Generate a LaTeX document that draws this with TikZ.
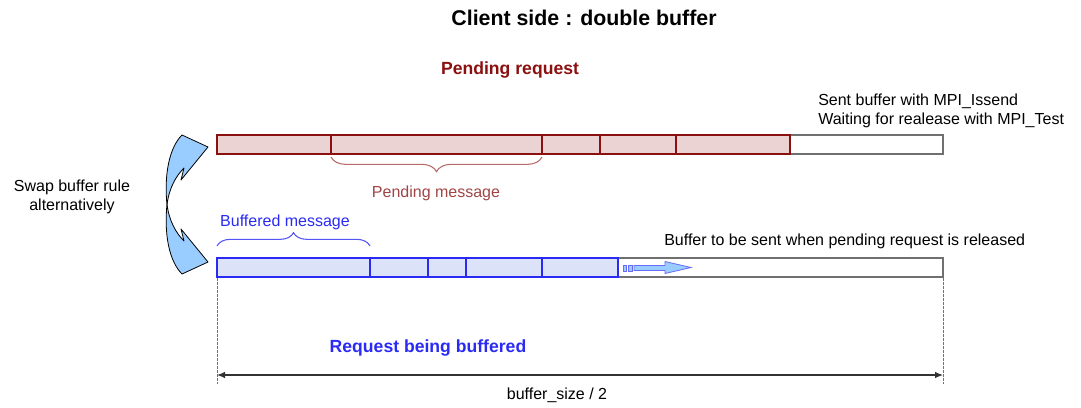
\documentclass[tikz,border=0pt]{standalone}
\usepackage{fontspec}
\setmainfont{Liberation Sans}
\usetikzlibrary{decorations.pathreplacing,arrows.meta}
\definecolor{dred}{HTML}{8B1010}
\definecolor{mred}{HTML}{A04545}
\definecolor{bred}{HTML}{B86A6A}
\definecolor{redfill}{HTML}{EBD3D3}
\definecolor{bblue}{HTML}{2A2AF5}
\definecolor{bluefill}{HTML}{DCE2F8}
\definecolor{arrowfill}{HTML}{99CCFF}
\definecolor{gline}{HTML}{707070}
\tikzset{
  redcell/.style={draw=dred, fill=redfill, line width=0.8pt},
  bluecell/.style={draw=bblue, fill=bluefill, line width=0.8pt},
  emptycell/.style={draw=gline, fill=white, line width=0.9pt},
  lbl/.style={inner sep=0pt, font=\fontsize{12pt}{14pt}\selectfont},
  boldlbl/.style={inner sep=0pt, font=\fontsize{13.2pt}{15pt}\selectfont\bfseries},
  swaparrow/.style={draw=black, fill=arrowfill, line width=0.6pt, line join=round},
  bracestyle/.style={decorate, line width=0.8pt},
  guide/.style={draw=gline, dashed, dash pattern=on 2pt off 1pt, line width=0.5pt},
  dimline/.style={draw=black!80, line width=0.9pt, {Latex[length=6pt,width=5pt]}-{Latex[length=6pt,width=5pt]}}
}
\begin{document}
\begin{tikzpicture}[x=0.75pt,y=-0.75pt]
\useasboundingbox (0,0) rectangle (1081,407);

% title texts
\node[inner sep=0pt, font=\fontsize{16pt}{18pt}\selectfont\bfseries] (title) at (584,18) {Client side : double buffer};
\node[boldlbl, text=dred] (pendreq) at (510,70) {Pending request};
\node[lbl, anchor=west] (sent) at (818,101) {Sent buffer with MPI\_Issend};
\node[lbl, anchor=west] (wait) at (818,120) {Waiting for realease with MPI\_Test};

% top buffer (pending request)
\draw[emptycell] (790,135) rectangle (943,154);
\draw[redcell] (217,135) rectangle (331,154);
\draw[redcell] (331,135) rectangle (542,154);
\draw[redcell] (542,135) rectangle (600,154);
\draw[redcell] (600,135) rectangle (676,154);
\draw[redcell] (676,135) rectangle (790,154);
\coordinate (pmL) at (331,157);
\coordinate (pmR) at (542,157);
\draw[bracestyle, draw=bred, decoration={brace, mirror, amplitude=11pt}] (pmL) -- (pmR);
\node[lbl, text=mred] (pendmsg) at (436,193) {Pending message};

% bottom buffer (request being buffered)
\coordinate (bmL) at (217,246);
\coordinate (bmR) at (370,246);
\draw[bracestyle, draw=bblue!80, decoration={brace, amplitude=10pt}] (bmL) -- (bmR);
\node[lbl, text=bblue] (bufmsg) at (285,222) {Buffered message};
\node[lbl, anchor=west] (tobesent) at (664,241) {Buffer to be sent when pending request is released};

\draw[emptycell] (618,258) rectangle (943,277);
\draw[bluecell] (217,258) rectangle (370,277);
\draw[bluecell] (370,258) rectangle (428,277);
\draw[bluecell] (428,258) rectangle (466,277);
\draw[bluecell] (466,258) rectangle (542,277);
\draw[bluecell] (542,258) rectangle (618,277);

% small fill arrow
\draw[draw=bblue!70, fill=arrowfill, line width=0.6pt] (623,265.5) rectangle (626.5,271);
\draw[draw=bblue!70, fill=arrowfill, line width=0.6pt] (628.5,265.5) rectangle (632,271);
\draw[draw=bblue!70, fill=arrowfill, line width=0.6pt, line join=miter]
  (634,265.5) -- (665,265.5) -- (665,261.5) -- (691,267.5) -- (665,273.5) -- (665,270.5) -- (634,270.5) -- cycle;

% swap arrows
\draw[swaparrow] (167,205) .. controls (164,175) and (169,148) .. (182,135)
  -- (208,147) -- (181,180) -- (184,168)
  .. controls (176,176) and (169,188) .. (167,205) -- cycle;
\draw[swaparrow] (167,204) .. controls (164,234) and (169,261) .. (182,274)
  -- (208,262) -- (181,229) -- (184,241)
  .. controls (176,233) and (169,221) .. (167,204) -- cycle;
\node[lbl] (swap1) at (72,187) {Swap buffer rule};
\node[lbl] (swap2) at (72,206) {alternatively};

% request being buffered + dimension
\node[boldlbl, text=bblue] (reqbuf) at (428,348) {Request being buffered};
\coordinate (dL0) at (217,278);
\coordinate (dR0) at (943,278);
\coordinate (dL1) at (217,384);
\coordinate (dR1) at (943,384);
\draw[guide] (dL0) -- (dL1);
\draw[guide] (dR0) -- (dR1);
\coordinate (aL) at (217,375);
\coordinate (aR) at (943,375);
\draw[dimline] (aL) -- (aR);
\node[lbl] (bsize) at (557,395) {buffer\_size / 2};
\end{tikzpicture}
\end{document}
